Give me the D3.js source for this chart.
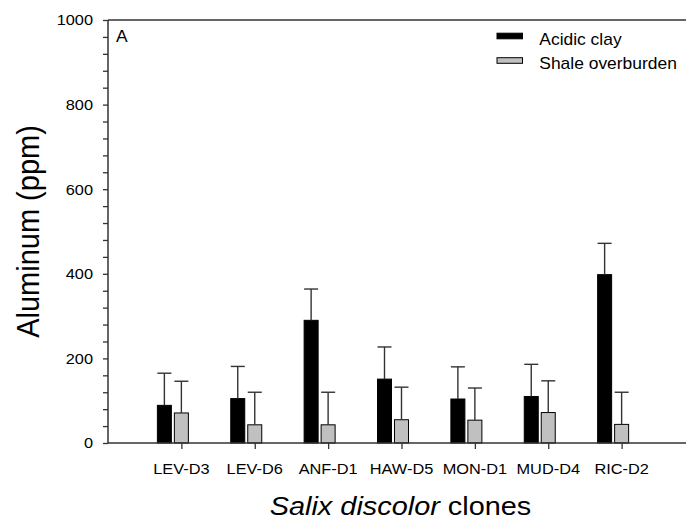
<!DOCTYPE html>
<html>
<head>
<meta charset="utf-8">
<script src="https://cdn.jsdelivr.net/npm/d3@7"></script>
<style>
  html, body { margin: 0; padding: 0; background: #fff; }
  svg { display: block; }
  text { font-family: "Liberation Sans", Arial, Helvetica, sans-serif; fill: #000; }
</style>
</head>
<body>
<svg id="chart" width="686" height="522"></svg>
<script>
// Aluminum concentration in Salix discolor clones grown on two substrates
const clones = ["LEV-D3", "LEV-D6", "ANF-D1", "HAW-D5", "MON-D1", "MUD-D4", "RIC-D2"];
const seriesNames = ["Acidic clay", "Shale overburden"];
const acidicClay = [89, 105, 290, 151, 104, 110, 398];
const acidicClayErr = [76, 76, 74, 76, 76, 76, 74];
const shaleOverburden = [71, 43, 43, 55, 54, 72, 44];
const shaleOverburdenErr = [75, 77, 77, 77, 76, 75, 76];
const yMajorTicks = [0, 200, 400, 600, 800, 1000];
const yMinorTicks = d3.range(0, 1001, 40);

const seriesFill = { "Acidic clay": "#000000", "Shale overburden": "#c0c0c0" };
const axisColor = "#333";
const sx = 1.09; // horizontal text stretch

const svg = d3.select("#chart");
const plotLeft = 108, plotTop = 20, plotBottom = 443, plotRight = 695;

const x = d3.scalePoint().domain(clones).range([plotLeft, plotRight]).padding(1);
const sub = d3.scaleBand().domain(seriesNames).range([-24, 7]).paddingInner(0.176).paddingOuter(0);
const y = d3.scaleLinear().domain([0, 1000]).range([plotBottom, plotTop]);

const rows = clones.map((c, i) => [
  { clone: c, series: seriesNames[0], value: acidicClay[i], err: acidicClayErr[i] },
  { clone: c, series: seriesNames[1], value: shaleOverburden[i], err: shaleOverburdenErr[i] }
]).flat();

// stretched text helper
function stext(g, px, py, str, opts = {}) {
  const t = g.append("text")
    .attr("transform", `translate(${px},${py}) scale(${sx},1)` + (opts.rotate ? ` rotate(${opts.rotate})` : ""))
    .attr("font-size", opts.size || 15)
    .attr("text-anchor", opts.anchor || "start")
    .text(str);
  if (opts.italic) t.attr("font-style", "italic");
  return t;
}

// bars
const bars = svg.append("g");
bars.selectAll("rect.bar").data(rows).join("rect")
  .attr("class", "bar")
  .attr("x", d => x(d.clone) + sub(d.series))
  .attr("y", d => y(d.value))
  .attr("width", sub.bandwidth())
  .attr("height", d => y(0) - y(d.value))
  .attr("fill", d => seriesFill[d.series])
  .attr("stroke", "#000")
  .attr("stroke-width", 1);

// error bars (upper only)
const errs = svg.append("g").attr("stroke", axisColor).attr("stroke-width", 1.4);
errs.selectAll("line.stem").data(rows).join("line")
  .attr("class", "stem")
  .attr("x1", d => x(d.clone) + sub(d.series) + sub.bandwidth() / 2)
  .attr("x2", d => x(d.clone) + sub(d.series) + sub.bandwidth() / 2)
  .attr("y1", d => y(d.value))
  .attr("y2", d => y(d.value + d.err));
errs.selectAll("line.cap").data(rows).join("line")
  .attr("class", "cap")
  .attr("x1", d => x(d.clone) + sub(d.series))
  .attr("x2", d => x(d.clone) + sub(d.series) + sub.bandwidth())
  .attr("y1", d => y(d.value + d.err))
  .attr("y2", d => y(d.value + d.err));

// y axis
const yAxis = svg.append("g").attr("transform", `translate(${plotLeft},0)`)
  .call(d3.axisLeft(y).tickValues(yMinorTicks).tickSize(5).tickFormat(""));
yAxis.select(".domain").remove();
yAxis.selectAll("line").attr("stroke", axisColor).attr("stroke-width", 1.3);
svg.append("line").attr("x1", plotLeft).attr("x2", plotLeft).attr("y1", y(1000)).attr("y2", y(0))
  .attr("stroke", axisColor).attr("stroke-width", 1.5);
const yLab = svg.append("g");
yMajorTicks.forEach(v => stext(yLab, plotLeft - 15, y(v) + 5.3, String(v), { anchor: "end", size: 15 }));

// top border and x axis line
svg.append("line").attr("x1", plotLeft).attr("x2", plotRight).attr("y1", y(1000)).attr("y2", y(1000))
  .attr("stroke", axisColor).attr("stroke-width", 1.5);
svg.append("line").attr("x1", plotLeft).attr("x2", plotRight).attr("y1", y(0)).attr("y2", y(0))
  .attr("stroke", axisColor).attr("stroke-width", 1.5);

// x ticks and labels
const xAxis = svg.append("g").attr("transform", `translate(0,${plotBottom})`)
  .call(d3.axisBottom(x).tickSize(6).tickFormat(""));
xAxis.select(".domain").remove();
xAxis.selectAll("line").attr("stroke", axisColor).attr("stroke-width", 1.3);
const xLab = svg.append("g");
clones.forEach(c => stext(xLab, x(c), 473.5, c, { anchor: "middle", size: 15 }));

// axis titles
stext(svg, 39, (plotTop + plotBottom) / 2, "Aluminum (ppm)", { anchor: "middle", size: 29, rotate: -90 });
const xt = svg.append("text")
  .attr("transform", `translate(${(269 + 532) / 2},515) scale(${sx},1)`)
  .attr("font-size", 26.5)
  .attr("text-anchor", "middle");
xt.append("tspan").attr("font-style", "italic").text("Salix discolor");
xt.append("tspan").text(" clones");

// panel letter
stext(svg, 116, 42.3, "A", { size: 16 });

// legend
const legend = svg.append("g");
seriesNames.forEach((s, i) => {
  const ly = 36 + i * 24.5;
  legend.append("rect").attr("x", 497).attr("y", ly - 2.8).attr("width", 25.5).attr("height", 5.6)
    .attr("fill", seriesFill[s]).attr("stroke", "#000").attr("stroke-width", 1);
  stext(legend, 539.3, ly + 8.5, s, { size: 16 });
});
</script>
</body>
</html>
